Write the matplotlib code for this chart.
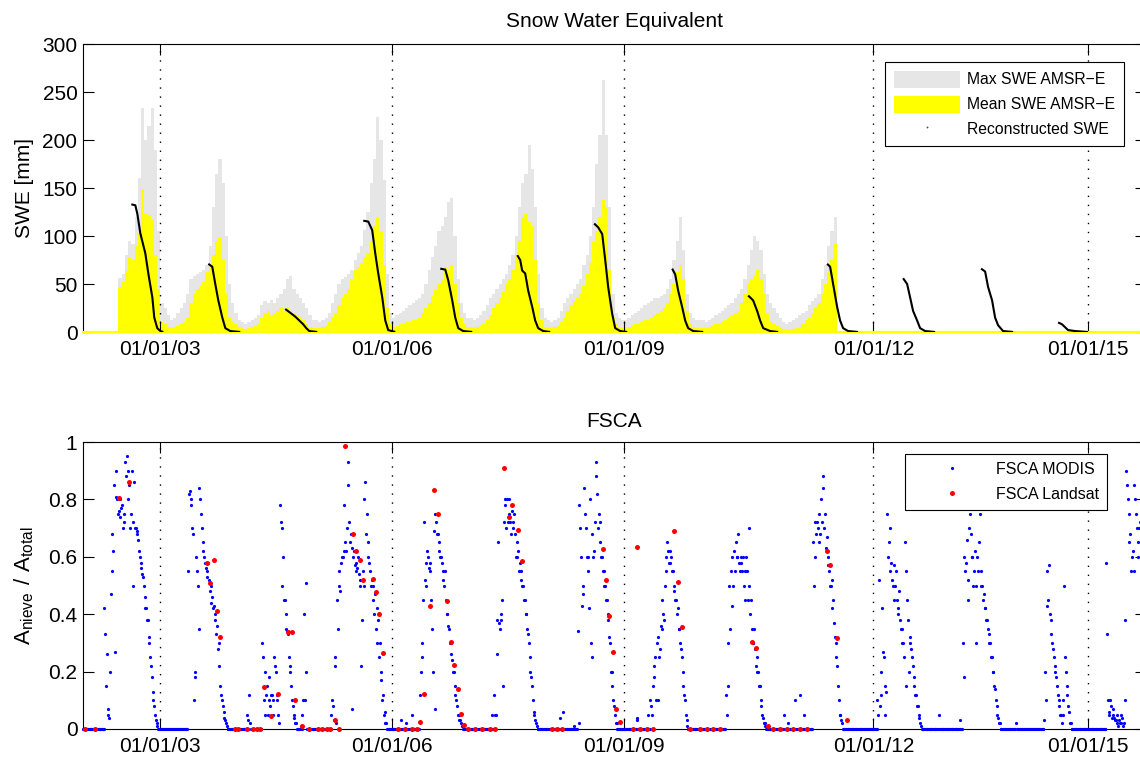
import numpy as np
import matplotlib
matplotlib.use("Agg")
import matplotlib.pyplot as plt
from matplotlib.patches import Patch
from matplotlib.lines import Line2D

# AMSR-E SWE, half-month values (mm), one row per year starting 1 Jan
swe_years = [2002, 2003, 2004, 2005, 2006, 2007, 2008, 2009, 2010, 2011]
max_swe = [
    [0, 0, 0, 0, 0, 0, 0, 0, 0, 0, 0, 56, 60, 80, 95, 92, 120, 160, 233, 200, 215, 233, 190, 105],
    [30, 25, 18, 12, 15, 20, 25, 30, 40, 55, 58, 60, 62, 65, 70, 90, 130, 165, 180, 155, 100, 50, 30, 20],
    [12, 10, 8, 10, 12, 15, 18, 28, 32, 30, 33, 30, 35, 40, 45, 55, 58, 45, 40, 35, 30, 25, 18, 12],
    [12, 10, 12, 15, 20, 30, 40, 50, 55, 57, 60, 65, 75, 82, 90, 106, 125, 155, 180, 224, 200, 158, 60, 20],
    [15, 18, 20, 22, 25, 28, 30, 33, 35, 40, 50, 65, 78, 90, 105, 110, 120, 135, 140, 100, 55, 30, 20, 15],
    [15, 12, 15, 18, 22, 28, 35, 40, 45, 50, 55, 60, 70, 80, 100, 130, 155, 165, 195, 170, 130, 60, 25, 15],
    [12, 10, 12, 15, 22, 30, 35, 40, 45, 50, 55, 70, 80, 100, 130, 175, 205, 262, 205, 130, 40, 20, 15, 12],
    [12, 15, 18, 20, 22, 25, 28, 30, 32, 35, 35, 38, 40, 45, 55, 75, 95, 120, 85, 40, 20, 15, 12, 12],
    [12, 10, 12, 15, 18, 20, 22, 25, 28, 30, 35, 40, 45, 55, 70, 85, 100, 95, 85, 60, 40, 30, 25, 20],
    [15, 10, 8, 10, 12, 15, 18, 20, 22, 28, 32, 35, 40, 55, 70, 90, 105, 120, 0, 0, 0, 0, 0, 0],
]
mean_swe = [
    [0, 0, 0, 0, 0, 0, 0, 0, 0, 0, 0, 47, 52, 64, 78, 75, 90, 103, 149, 124, 122, 118, 80, 45],
    [10, 8, 5, 4, 5, 6, 8, 10, 15, 30, 40, 45, 48, 52, 62, 70, 80, 95, 98, 75, 40, 15, 10, 8],
    [5, 4, 3, 4, 5, 6, 8, 15, 20, 22, 18, 20, 22, 25, 22, 25, 22, 20, 18, 15, 12, 8, 5, 4],
    [4, 4, 5, 6, 10, 15, 20, 28, 35, 40, 45, 55, 65, 68, 72, 78, 82, 95, 110, 120, 105, 70, 25, 8],
    [5, 6, 8, 8, 10, 10, 12, 12, 15, 20, 25, 30, 38, 45, 50, 55, 68, 65, 70, 50, 30, 15, 8, 5],
    [5, 4, 5, 6, 8, 12, 18, 25, 30, 35, 42, 50, 55, 65, 80, 95, 120, 123, 115, 110, 75, 30, 12, 5],
    [4, 4, 5, 6, 10, 15, 22, 28, 32, 35, 40, 48, 60, 72, 95, 105, 120, 137, 130, 65, 15, 8, 5, 4],
    [4, 5, 6, 8, 8, 10, 12, 12, 15, 18, 20, 22, 25, 30, 40, 50, 62, 70, 55, 22, 8, 5, 4, 4],
    [4, 4, 5, 6, 8, 8, 10, 12, 15, 18, 20, 22, 30, 40, 50, 55, 58, 65, 55, 40, 20, 10, 8, 6],
    [4, 3, 2, 3, 3, 4, 5, 8, 12, 15, 20, 25, 30, 40, 50, 62, 75, 92, 0, 0, 0, 0, 0, 0],
]

# reconstructed SWE, one melt season per entry (decimal year, mm)
recon_t = [
    [2002.625, 2002.677, 2002.703, 2002.741, 2002.806, 2002.845, 2002.897, 2002.922, 2002.961, 2003.0, 2003.039],
    [2003.621, 2003.672, 2003.711, 2003.750, 2003.802, 2003.841, 2003.905, 2004.034],
    [2004.616, 2004.681, 2004.746, 2004.810, 2004.849, 2004.888, 2004.927, 2005.030],
    [2005.625, 2005.690, 2005.741, 2005.780, 2005.819, 2005.871, 2005.910, 2005.948, 2006.039],
    [2006.621, 2006.686, 2006.724, 2006.776, 2006.815, 2006.854, 2006.918, 2007.035],
    [2007.617, 2007.655, 2007.681, 2007.720, 2007.759, 2007.811, 2007.849, 2007.888, 2007.953, 2008.043],
    [2008.612, 2008.664, 2008.716, 2008.755, 2008.793, 2008.845, 2008.884, 2008.949, 2009.039],
    [2009.621, 2009.660, 2009.699, 2009.750, 2009.789, 2009.828, 2009.893, 2010.022],
    [2010.604, 2010.668, 2010.720, 2010.759, 2010.798, 2010.888, 2010.992],
    [2011.625, 2011.664, 2011.703, 2011.755, 2011.793, 2011.832, 2011.897, 2012.026],
    [2012.608, 2012.660, 2012.699, 2012.737, 2012.789, 2012.828, 2012.893, 2013.022],
    [2013.617, 2013.669, 2013.707, 2013.759, 2013.798, 2013.837, 2013.901, 2014.031],
    [2014.613, 2014.664, 2014.703, 2014.742, 2014.832, 2015.0],
]
recon_v = [
    [133, 132, 123, 103, 82, 61, 36, 15, 4, 1, 0],
    [71, 68, 50, 33, 15, 4, 1, 0],
    [24, 20, 16, 11, 8, 4, 1, 0],
    [116, 115, 106, 82, 61, 36, 12, 2, 0],
    [66, 65, 54, 33, 15, 4, 1, 0],
    [80, 75, 64, 61, 43, 26, 12, 4, 1, 0],
    [113, 109, 102, 75, 47, 19, 4, 1, 0],
    [66, 60, 43, 26, 12, 4, 1, 0],
    [38, 33, 22, 12, 4, 1, 0],
    [71, 68, 50, 26, 12, 4, 1, 0],
    [56, 50, 36, 22, 12, 4, 1, 0],
    [66, 63, 47, 33, 15, 7, 1, 0],
    [10, 8, 5, 2, 1, 0],
]

# MODIS FSCA, two readings per ~week (48 slots per year), one row per year
modis_years = [2002, 2003, 2004, 2005, 2006, 2007, 2008, 2009, 2010, 2011, 2012, 2013, 2014, 2015]
modis_a = [
    [0] * 13 + [0.42, 0.15, 0.05, 0.04, 0.47, 0.68, 0.85, 0.9, 0.8, 0.76, 0.74, 0.78, 0.72, 0.93, 0.95, 0.8, 0.7, 0.9, 0.72, 0.7, 0.69, 0.66, 0.6, 0.56, 0.53, 0.46, 0.42, 0.38, 0.3, 0.22, 0.13, 0.08, 0.03, 0.01, 0],
    [0] * 17 + [0.55, 0.83, 0.78, 0.68, 0.2, 0.6, 0.5, 0.84, 0.75, 0.62, 0.6, 0.56, 0.55, 0.52, 0.5, 0.46, 0.43, 0.4, 0.36, 0.3, 0.15, 0.1, 0.06, 0.03, 0.01, 0, 0, 0, 0, 0, 0],
    [0, 0, 0, 0, 0, 0, 0.03, 0.12, 0, 0, 0, 0, 0, 0, 0, 0.3, 0.1, 0.05, 0.15, 0.1, 0.08, 0.12, 0.1, 0.22, 0.1, 0.05, 0.78, 0.7, 0.6, 0.45, 0.4, 0.33, 0.22, 0.15, 0.08, 0.04, 0.02, 0, 0, 0.01, 0.05, 0.4, 0.2, 0, 0, 0, 0, 0],
    [0] * 10 + [0.05, 0.08, 0.25, 0.02, 0.35, 0.5, 0.58, 0.6, 0.78, 0.62, 0.93, 0.72, 0.68, 0.63, 0.62, 0.58, 0.56, 0.54, 0.52, 0.38, 0.5, 0.86, 0.75, 0.65, 0.55, 0.52, 0.5, 0.47, 0.42, 0.38, 0.3, 0.2, 0.12, 0.06, 0.02, 0, 0, 0],
    [0, 0, 0, 0, 0, 0.03, 0, 0, 0, 0, 0, 0, 0.05, 0, 0, 0, 0, 0.12, 0.25, 0.45, 0.52, 0.58, 0.6, 0.55, 0.45, 0.2, 0.75, 0.72, 0.68, 0.65, 0.6, 0.55, 0.5, 0.45, 0.4, 0.35, 0.3, 0.24, 0.2, 0.12, 0.08, 0.05, 0.03, 0.01, 0, 0, 0, 0],
    [0] * 15 + [0.12, 0.05, 0.38, 0.37, 0.4, 0.45, 0.72, 0.78, 0.8, 0.75, 0.72, 0.76, 0.7, 0.68, 0.65, 0.62, 0.58, 0.55, 0.5, 0.45, 0.4, 0.33, 0.25, 0.18, 0.1, 0.05, 0.02, 0, 0, 0, 0, 0, 0],
    [0, 0, 0, 0, 0, 0, 0, 0, 0.04, 0, 0, 0, 0, 0, 0, 0, 0, 0, 0, 0.34, 0.78, 0.6, 0.5, 0.84, 0.7, 0.6, 0.42, 0.3, 0.68, 0.62, 0.93, 0.82, 0.75, 0.65, 0.6, 0.55, 0.5, 0.45, 0.38, 0.3, 0.2, 0.1, 0.05, 0.02, 0, 0, 0, 0],
    [0, 0, 0, 0, 0, 0, 0, 0, 0.04, 0, 0, 0, 0, 0, 0, 0, 0.1, 0.05, 0.18, 0.25, 0.3, 0.1, 0.28, 0.35, 0.4, 0.5, 0.6, 0.62, 0.58, 0.6, 0.55, 0.5, 0.45, 0.42, 0.35, 0.28, 0.2, 0.12, 0.05, 0.01, 0, 0, 0, 0, 0, 0, 0, 0],
    [0] * 15 + [0.12, 0.3, 0.5, 0.55, 0.6, 0.62, 0.65, 0.6, 0.58, 0.6, 0.55, 0.5, 0.45, 0.55, 0.5, 0.4, 0.35, 0.3, 0.28, 0.25, 0.2, 0.15, 0.08, 0.04, 0.02, 0, 0, 0, 0, 0, 0, 0, 0],
    [0, 0, 0, 0.05, 0, 0, 0, 0, 0, 0, 0.1, 0, 0, 0.12, 0, 0, 0, 0, 0, 0, 0, 0.65, 0.72, 0.68, 0.7, 0.75, 0.8, 0.88, 0.7, 0.63, 0.6, 0.55, 0.5, 0.42, 0.37, 0.3, 0.22, 0.1, 0.05, 0.02, 0, 0, 0, 0, 0, 0, 0, 0],
    [0] * 13 + [0.1, 0.52, 0.12, 0.42, 0.25, 0.15, 0.75, 0.65, 0.55, 0.52, 0.57, 0.5, 0.45, 0.42, 0.38, 0.35, 0.3, 0.65, 0.55, 0.38, 0.3, 0.28, 0.22, 0.18, 0.12, 0.08, 0.04, 0.01, 0, 0, 0, 0, 0, 0, 0],
    [0, 0, 0, 0.05, 0, 0, 0, 0, 0, 0, 0, 0, 0, 0, 0, 0, 0, 0, 0.3, 0.6, 0.58, 0.52, 0.7, 0.68, 0.6, 0.55, 0.5, 0.6, 0.65, 0.55, 0.5, 0.47, 0.42, 0.38, 0.33, 0.3, 0.25, 0.2, 0.14, 0.08, 0.04, 0.02, 0, 0, 0, 0, 0, 0],
    [0, 0, 0, 0.02, 0, 0, 0, 0, 0, 0, 0, 0, 0, 0, 0, 0, 0, 0, 0, 0, 0, 0.2, 0.55, 0.45, 0.4, 0.33, 0.28, 0.22, 0.18, 0.12, 0.08, 0.05, 0.1, 0.5, 0.2, 0.15, 0.06, 0.02, 0, 0, 0, 0, 0, 0, 0, 0, 0, 0],
    [0] * 11 + [0.58, 0.1, 0.06, 0.08, 0.05, 0.04, 0.03, 0.02, 0.03, 0.02, 0.04, 0.02, 0.1, 0.85, 0.75, 0.68, 0.6, 0.55, 0.8, 0.7, 0.65, 0.72, 0.62, 0.6],
]
modis_b = [
    [0] * 13 + [0.33, 0.26, 0.07, 0.2, 0.55, 0.62, 0.27, 0.81, 0.75, 0.8, 0.77, 0.7, 0.75, 0.88, 0.9, 0.85, 0.75, 0.5, 0.86, 0.7, 0.68, 0.62, 0.58, 0.54, 0.5, 0.42, 0.38, 0.32, 0.25, 0.18, 0.1, 0.05, 0.02, 0, 0],
    [0] * 17 + [0.82, 0.8, 0.7, 0.1, 0.18, 0.55, 0.35, 0.8, 0.7, 0.65, 0.58, 0.53, 0.58, 0.48, 0.44, 0.42, 0.38, 0.33, 0.28, 0.22, 0.12, 0.08, 0.04, 0.02, 0, 0, 0, 0, 0, 0, 0],
    [0, 0, 0, 0, 0, 0.05, 0, 0.02, 0, 0, 0, 0, 0, 0, 0, 0.25, 0.2, 0.12, 0.05, 0.18, 0.12, 0.05, 0.25, 0.2, 0.12, 0.02, 0.72, 0.5, 0.45, 0.35, 0.34, 0.25, 0.2, 0.1, 0.05, 0.02, 0, 0, 0, 0, 0.1, 0.1, 0.51, 0, 0, 0, 0, 0],
    [0] * 10 + [0.1, 0.03, 0.22, 0.45, 0.55, 0.48, 0.6, 0.62, 0.65, 0.7, 0.85, 0.65, 0.07, 0.6, 0.57, 0.55, 0.6, 0.5, 0.22, 0.55, 0.8, 0.68, 0.6, 0.58, 0.5, 0.45, 0.4, 0.35, 0.3, 0.25, 0.17, 0.1, 0.05, 0.02, 0, 0, 0, 0],
    [0, 0, 0, 0, 0, 0, 0, 0, 0.02, 0, 0, 0, 0, 0, 0, 0, 0, 0.2, 0.3, 0.72, 0.5, 0.62, 0.56, 0.58, 0.35, 0.69, 0.07, 0.68, 0.62, 0.6, 0.58, 0.52, 0.55, 0.4, 0.36, 0.3, 0.26, 0.2, 0.15, 0.1, 0.05, 0.03, 0.02, 0, 0, 0, 0, 0],
    [0, 0, 0, 0, 0, 0, 0, 0, 0, 0, 0, 0, 0, 0.05, 0, 0.05, 0.26, 0.65, 0.35, 0.38, 0.15, 0.8, 0.7, 0.72, 0.8, 0.68, 0.72, 0.75, 0.6, 0.6, 0.55, 0.52, 0.5, 0.45, 0.4, 0.35, 0.3, 0.2, 0.15, 0.06, 0.03, 0.01, 0, 0, 0, 0, 0, 0],
    [0, 0, 0, 0, 0, 0, 0, 0, 0, 0.06, 0, 0, 0, 0, 0, 0, 0.01, 0, 0, 0.02, 0.7, 0.43, 0.47, 0.75, 0.6, 0.55, 0.8, 0.25, 0.6, 0.72, 0.88, 0.7, 0.72, 0.6, 0.55, 0.5, 0.45, 0.4, 0.32, 0.2, 0.15, 0.08, 0.02, 0, 0, 0, 0, 0],
    [0, 0, 0, 0, 0, 0, 0, 0.03, 0, 0, 0, 0, 0, 0, 0.05, 0, 0.08, 0.15, 0.22, 0.1, 0.32, 0.25, 0.36, 0.45, 0.38, 0.55, 0.65, 0.58, 0.62, 0.55, 0.48, 0.45, 0.4, 0.35, 0.3, 0.25, 0.15, 0.1, 0.03, 0, 0, 0, 0, 0, 0, 0, 0, 0],
    [0] * 15 + [0.05, 0.15, 0.35, 0.43, 0.5, 0.55, 0.6, 0.68, 0.55, 0.58, 0.6, 0.55, 0.6, 0.45, 0.7, 0.45, 0.3, 0.35, 0.22, 0.2, 0.15, 0.1, 0.05, 0.02, 0.01, 0, 0, 0, 0, 0, 0, 0, 0],
    [0, 0, 0, 0, 0, 0.02, 0, 0, 0, 0, 0, 0, 0, 0, 0, 0.05, 0, 0, 0, 0, 0, 0.5, 0.6, 0.72, 0.65, 0.68, 0.72, 0.84, 0.75, 0.67, 0.57, 0.5, 0.52, 0.45, 0.32, 0.25, 0.15, 0.05, 0.03, 0, 0, 0, 0, 0, 0, 0, 0, 0],
    [0] * 13 + [0.05, 0.08, 0.2, 0.27, 0.05, 0.13, 0.6, 0.7, 0.58, 0.5, 0.45, 0.55, 0.4, 0.48, 0.35, 0.3, 0.25, 0.15, 0.45, 0.2, 0.32, 0.25, 0.15, 0.12, 0.08, 0.05, 0.02, 0, 0, 0, 0, 0, 0, 0, 0],
    [0] * 16 + [0.03, 0, 0.18, 0.55, 0.66, 0.45, 0.75, 0.6, 0.5, 0.62, 0.3, 0.55, 0.75, 0.5, 0.45, 0.42, 0.38, 0.35, 0.3, 0.25, 0.2, 0.15, 0.1, 0.05, 0.02, 0, 0, 0, 0, 0, 0, 0],
    [0] * 20 + [0.03, 0.1, 0.43, 0.57, 0.38, 0.3, 0.25, 0.2, 0.15, 0.1, 0.05, 0.02, 0.05, 0.25, 0.12, 0.08, 0.02, 0, 0, 0, 0, 0, 0, 0, 0, 0, 0, 0],
    [0] * 11 + [0.33, 0.05, 0.1, 0.04, 0.07, 0.03, 0.05, 0.01, 0.02, 0.05, 0.01, 0.38, 0.9, 0.8, 0.65, 0.55, 0.62, 0.85, 0.75, 0.6, 0.7, 0.65, 0.58, 0.62],
]

# Landsat FSCA scenes (decimal year, fraction)
landsat_t = [2002.030, 2002.159, 2002.461, 2002.590, 2003.604, 2003.647, 2003.689, 2003.733, 2003.776, 2003.970,
             2004.009, 2004.125, 2004.203, 2004.254, 2004.293, 2004.345, 2004.432, 2004.522, 2004.646, 2004.703,
             2004.746, 2004.832, 2004.918, 2005.043, 2005.095, 2005.160, 2005.198, 2005.263, 2005.315, 2005.392,
             2005.492, 2005.535, 2005.577, 2005.621, 2005.751, 2005.793, 2005.832, 2005.880, 2006.078, 2006.168,
             2006.259, 2006.323, 2006.353, 2006.405, 2006.492, 2006.534, 2006.586, 2006.707, 2006.759, 2006.802,
             2006.845, 2006.889, 2006.931, 2006.983, 2007.073, 2007.164, 2007.267, 2007.332, 2007.452, 2007.504,
             2007.548, 2007.633, 2007.677, 2008.065, 2008.130, 2008.195, 2008.725, 2008.767, 2008.810, 2008.862,
             2008.897, 2008.949, 2009.117, 2009.164, 2009.207, 2009.298, 2009.375, 2009.647, 2009.695, 2009.746,
             2009.854, 2009.983, 2010.074, 2010.151, 2010.242, 2010.652, 2010.703, 2010.866, 2010.927, 2011.018,
             2011.108, 2011.186, 2011.276, 2011.367, 2011.622, 2011.664, 2011.751, 2011.880]
landsat_v = [0, 0, 0.805, 0.86, 0.58, 0.51, 0.59, 0.41, 0.32, 0,
             0, 0, 0, 0, 0, 0.145, 0.046, 0.123, 0.337, 0.338,
             0.1, 0.01, 0, 0, 0, 0, 0, 0.033, 0, 0.985,
             0.68, 0.62, 0.588, 0.52, 0.523, 0.477, 0.4, 0.265, 0, 0,
             0, 0, 0.023, 0.122, 0.43, 0.834, 0.749, 0.445, 0.304, 0.224,
             0.14, 0.052, 0.015, 0, 0, 0, 0, 0, 0.909, 0.737,
             0.78, 0.692, 0.584, 0, 0, 0, 0.627, 0.518, 0.395, 0.27,
             0.07, 0.024, 0, 0.633, 0, 0, 0, 0.689, 0.511, 0.355,
             0, 0, 0, 0, 0, 0.302, 0.282, 0.01, 0, 0,
             0, 0, 0, 0, 0.62, 0.573, 0.317, 0.03]

tick_pos = [2003.0, 2006.0, 2009.0, 2012.225, 2015.0]
tick_lbl = ['01/01/03', '01/01/06', '01/01/09', '01/01/12', '01/01/15']

plt.rcParams['font.family'] = ['Liberation Sans', 'DejaVu Sans']
plt.rcParams['mathtext.default'] = 'regular'

fig = plt.figure(figsize=(11.4, 7.6), dpi=100)
W, H = 1140, 760
ax1 = fig.add_axes([83 / W, 1 - 332 / H, 1063 / W, 288 / H])
ax2 = fig.add_axes([83 / W, 1 - 729 / H, 1063 / W, 287 / H])

gray = '#e6e6e6'
yellow = '#ffff00'

# --- top: SWE
x_swe = np.concatenate([y + np.arange(len(v)) / 24 for y, v in zip(swe_years, max_swe)])
ax1.bar(x_swe, np.concatenate(max_swe), width=1 / 24, align='edge', color=gray, lw=0, zorder=1)
ax1.bar(x_swe, np.concatenate(mean_swe), width=1 / 24, align='edge', color=yellow, lw=0, zorder=1.5)
ax1.axhline(0, color=yellow, lw=1.6, zorder=3, clip_on=False)
for t, v in zip(recon_t, recon_v):
    ax1.plot(t, v, color='k', lw=1.5, zorder=4, solid_capstyle='butt')

# --- bottom: FSCA
t_a = np.concatenate([y + (np.arange(len(v)) + 0.25) / 48 for y, v in zip(modis_years, modis_a)])
t_b = np.concatenate([y + (np.arange(len(v)) + 0.75) / 48 for y, v in zip(modis_years, modis_b)])
ax2.plot(t_a, np.concatenate(modis_a), 'o', color='b', ms=2.3, mew=0, clip_on=False, zorder=3,
         label='FSCA MODIS')
ax2.plot(t_b, np.concatenate(modis_b), 'o', color='b', ms=2.3, mew=0, clip_on=False, zorder=3)
ax2.plot(landsat_t, landsat_v, 'o', color='r', ms=3.6, mew=0, clip_on=False, zorder=4,
         label='FSCA Landsat')

for ax in (ax1, ax2):
    ax.set_xlim(2002.0, 2015.75)
    for xt in tick_pos:
        ax.axvline(xt, color='k', lw=1.0, ls=(0, (1, 5.5)), zorder=2)
    ax.set_xticks(tick_pos)
    ax.set_xticklabels(tick_lbl)
    ax.tick_params(direction='in', length=7.6, width=0.8, top=True, right=True,
                   labelsize=15, colors='k')
    ax.tick_params(axis='x', pad=6)
    ax.tick_params(axis='y', pad=4)
    for s in ax.spines.values():
        s.set_linewidth(0.8)

ax1.set_ylim(0, 300)
ax1.set_yticks([0, 50, 100, 150, 200, 250, 300])
ax1.set_ylabel('SWE [mm]', fontsize=15)
ax1.yaxis.set_label_coords(-0.046, 0.5)
ax1.set_title('Snow Water Equivalent', fontsize=15, pad=12)

ax2.set_ylim(0, 1)
ax2.set_yticks([0, 0.2, 0.4, 0.6, 0.8, 1])
ax2.set_yticklabels(['0', '0.2', '0.4', '0.6', '0.8', '1'])
ax2.set_ylabel(r'$A_{nieve}\ /\ A_{total}$', fontsize=16)
ax2.yaxis.set_label_coords(-0.044, 0.5)
ax2.set_title('FSCA', fontsize=15, pad=11)

h1 = [Patch(facecolor=gray, edgecolor='none'), Patch(facecolor=yellow, edgecolor='none'),
      Line2D([], [], ls='none', marker='o', ms=1.3, mew=0, color='0.3')]
leg1 = ax1.legend(h1, ['Max SWE AMSR\u2212E', 'Mean SWE AMSR\u2212E', 'Reconstructed SWE'],
                  loc='upper right', bbox_to_anchor=(0.979, 0.9375), fontsize=11.3,
                  fancybox=False, edgecolor='k', framealpha=1, handlelength=4.2, handleheight=1.3,
                  handletextpad=0.45, borderpad=0.55, labelspacing=0.5, borderaxespad=0)
leg1.get_frame().set_linewidth(0.8)

leg2 = ax2.legend(loc='upper right', bbox_to_anchor=(0.963, 0.958), fontsize=11.5,
                  fancybox=False, edgecolor='k', framealpha=1, handlelength=4.9, numpoints=1,
                  handletextpad=0.3, borderpad=0.5, labelspacing=0.6, borderaxespad=0,
                  markerscale=1.0)
leg2.get_frame().set_linewidth(0.8)

fig.savefig('out.png', dpi=100)
